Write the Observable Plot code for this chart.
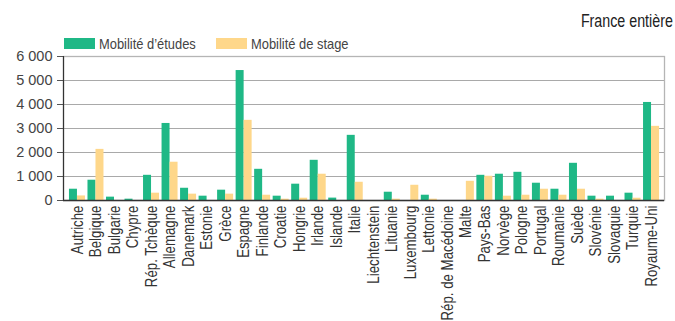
<!DOCTYPE html>
<html><head><meta charset="utf-8">
<script src="https://cdn.jsdelivr.net/npm/d3@7"></script>
<script src="https://cdn.jsdelivr.net/npm/@observablehq/plot@0.6"></script>
<style>
body{margin:0;background:#fff;font-family:"Liberation Sans",Arial,sans-serif;}
#wrap{position:relative;width:675px;height:321px;overflow:hidden;}
#chart{position:absolute;left:0;top:0;}
#scope{position:absolute;right:2px;top:11px;font-size:17.5px;color:#222;white-space:nowrap;transform:scaleX(0.815);transform-origin:right center;}
#legend{position:absolute;left:64px;top:34px;font-size:15px;color:#444;white-space:nowrap;}
.item{position:absolute;top:0;display:flex;align-items:center;height:18px;}
.sw{display:inline-block;width:31px;height:11px;margin-right:4px;}
.lt{display:inline-block;transform:scaleX(0.86);transform-origin:left center;}
</style></head>
<body>
<div id="wrap">
  <div id="chart"></div>
  <div id="scope">France entière</div>
  <div id="legend"></div>
</div>
<script>
const pays = ["Autriche","Belgique","Bulgarie","Chypre","Rép. Tchèque","Allemagne","Danemark","Estonie","Grèce","Espagne","Finlande","Croatie","Hongrie","Irlande","Islande","Italie","Liechtenstein","Lituanie","Luxembourg","Lettonie","Rép. de Macédoine","Malte","Pays-Bas","Norvège","Pologne","Portugal","Roumanie","Suède","Slovénie","Slovaquie","Turquie","Royaume-Uni"];
const etudes = [470,845,140,55,1050,3210,510,180,430,5415,1300,180,680,1675,100,2715,0,345,0,220,0,0,1050,1095,1175,720,470,1550,180,180,305,4085];
const stage  = [190,2130,0,0,305,1595,265,0,265,3340,220,55,95,1095,0,760,0,55,635,55,0,800,1010,180,220,470,220,470,55,0,95,3090];
const series = ["Mobilité d’études","Mobilité de stage"];
const colors = ["#1fb886","#fed78a"];
const yTicks = [0,1000,2000,3000,4000,5000,6000];

const dataE = pays.map((p,i)=>({pays:p, v:etudes[i]}));
const dataS = pays.map((p,i)=>({pays:p, v:stage[i]}));
const fmt = d => d3.format(",")(d).replace(/,/g," ");

const leftLine = (index, scales, values, dim) => {
  const g = d3.create("svg:line")
    .attr("x1", dim.marginLeft + 0.5).attr("x2", dim.marginLeft + 0.5)
    .attr("y1", dim.marginTop).attr("y2", dim.height - dim.marginBottom)
    .attr("stroke", "#333").attr("stroke-width", 1.2);
  return g.node();
};

const chart = Plot.plot({
  width: 675, height: 321,
  marginTop: 56, marginBottom: 121, marginLeft: 63, marginRight: 11,
  style: {fontFamily: '"Liberation Sans",Arial,sans-serif', fontSize: "14.5px", color: "#333", background: "transparent", overflow: "visible"},
  x: {domain: pays, range: [67.7, 660.3], padding: 0, round: false},
  y: {domain: [0, 6000]},
  marks: [
    Plot.gridY(yTicks, {stroke: "#a9a9a9", strokeOpacity: 1, strokeWidth: 1.2}),
    Plot.frame({stroke: "#b5b5b5", strokeWidth: 1.3}),
    Plot.barY(dataE, {x: "pays", y: "v", fill: colors[0], insetLeft: 1.26, insetRight: 9.26}),
    Plot.barY(dataS, {x: "pays", y: "v", fill: colors[1], insetLeft: 9.26, insetRight: 1.26}),
    Plot.axisY(yTicks, {tickFormat: fmt, tickSize: 6, tickPadding: 5, label: null, fontSize: 14.5, stroke: "#555", fill: "#444"}),
    Plot.axisX({tickSize: 0, tickRotate: -90, tickPadding: 5, label: null, fontSize: 16, fill: "#333"}),
    Plot.ruleY([0], {stroke: "#333", strokeWidth: 1.6}),
    leftLine
  ]
});
chart.querySelectorAll('g[aria-label="x-axis tick label"] text').forEach(t => {
  const tr = t.getAttribute("transform") || "";
  t.setAttribute("transform", tr + " scale(0.83,1)");
});
document.getElementById("chart").appendChild(chart);

const legend = document.getElementById("legend");
const lx = [0, 152];
series.forEach((s,i)=>{
  const it = document.createElement("div");
  it.className = "item";
  it.style.left = lx[i] + "px";
  it.innerHTML = `<span class="sw" style="background:${colors[i]}"></span><span class="lt">${s}</span>`;
  legend.appendChild(it);
});
</script>
</body></html>
